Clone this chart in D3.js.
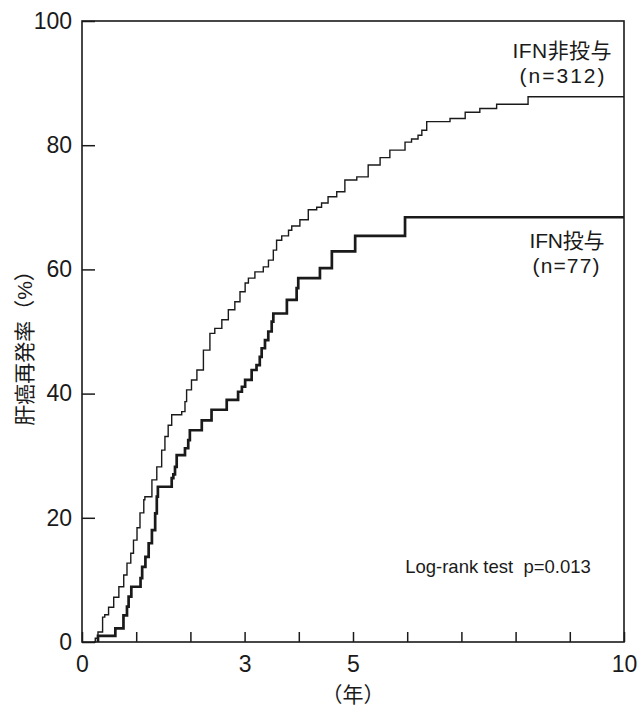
<!DOCTYPE html>
<html>
<head>
  <meta charset="utf-8">
  <title>肝癌再発率</title>
  <script src="https://d3js.org/d3.v7.min.js"></script>
  <style>
    body { margin: 0; background: #fff; }
    .tick text { font-family: "Liberation Sans", Arial, sans-serif; font-size: 23px; fill: #1a1a1a; }
    .tick line { stroke: #1a1a1a; stroke-width: 1.5px; }
    .jp { font-family: "Liberation Sans", "Noto Sans CJK JP", sans-serif; fill: #1a1a1a; }
  </style>
</head>
<body>
  <script>
    // IFN非投与 (n=312): step times (years) and cumulative recurrence (%)
    var noIfnYears = [0.22, 0.245, 0.295, 0.38, 0.42, 0.49, 0.585, 0.68, 0.77, 0.83, 0.90, 0.95, 1.015, 1.07, 1.14,
      1.16, 1.29, 1.38, 1.47, 1.53, 1.59, 1.655, 1.84, 1.90, 1.93, 2.02, 2.12, 2.24, 2.36, 2.45, 2.58, 2.70,
      2.82, 2.915, 3.01, 3.07, 3.19, 3.345, 3.44, 3.53, 3.59, 3.685, 3.81, 3.87, 4.02, 4.175, 4.33, 4.42,
      4.54, 4.70, 4.85, 5.07, 5.28, 5.50, 5.68, 5.96, 6.08, 6.20, 6.27, 6.36, 6.79, 7.07, 7.34, 7.65, 8.23, 10];
    var noIfnRate = [0, 0.6, 1.6, 4.0, 4.4, 5.6, 7.2, 8.9, 10.8, 12.7, 14.3, 16.4, 18.4, 20.8, 22.9,
      23.4, 26.1, 28.2, 30.9, 33.1, 34.9, 36.6, 37.1, 38.7, 40.6, 42.2, 43.8, 47.0, 49.7, 50.5, 51.9, 53.5,
      54.8, 56.4, 57.8, 58.6, 59.6, 60.4, 61.5, 63.1, 64.7, 65.4, 66.3, 67.0, 68.0, 69.6, 70.0, 70.7,
      71.7, 72.5, 74.4, 74.9, 76.8, 78.0, 79.2, 80.5, 81.0, 81.6, 82.4, 83.8, 84.3, 85.3, 85.9, 86.6, 87.8, 87.8];

    // IFN投与 (n=77)
    var ifnYears = [0.295, 0.295, 0.615, 0.765, 0.83, 0.86, 0.91, 1.08, 1.11, 1.17, 1.23, 1.29, 1.35, 1.38, 1.40,
      1.655, 1.685, 1.716, 1.747, 1.90, 1.96, 1.99, 2.21, 2.39, 2.67, 2.88, 2.95, 3.01, 3.13, 3.22, 3.28,
      3.315, 3.376, 3.437, 3.50, 3.53, 3.78, 3.96, 3.99, 4.39, 4.61, 5.04, 5.96, 10];
    var ifnRate = [0, 1.0, 2.2, 4.3, 5.7, 7.3, 8.9, 10.3, 12.1, 13.7, 15.9, 18.0, 20.7, 23.4, 25.0,
      26.4, 27.0, 28.2, 30.1, 31.2, 32.5, 34.1, 35.7, 37.4, 39.0, 40.3, 41.1, 42.2, 43.8, 44.6, 45.9,
      47.3, 48.6, 50.0, 51.6, 52.9, 55.1, 57.0, 58.6, 60.2, 62.9, 65.4, 68.4, 68.4];

    var xTicks = [0, 1, 2, 3, 4, 5, 6, 7, 8, 9, 10];
    var xLabels = { 0: "0", 3: "3", 5: "5", 10: "10" };
    var yTicks = [0, 20, 40, 60, 80, 100];

    var width = 637,
        height = 707;

    var svg = d3.select('body')
      .append('svg')
      .attr('width', width)
      .attr('height', height);

    var x = d3.scaleLinear().domain([0, 10]).range([82, 624]);
    var y = d3.scaleLinear().domain([0, 100]).range([642, 21]);

    // frame
    svg.append('rect')
      .attr('x', x(0)).attr('y', y(100))
      .attr('width', x(10) - x(0)).attr('height', y(0) - y(100))
      .attr('fill', 'none')
      .attr('stroke', '#1a1a1a')
      .attr('stroke-width', 1.6);

    // y axis, ticks point inside
    var yAxis = svg.append('g')
      .attr('transform', 'translate(' + x(0) + ',0)')
      .call(d3.axisLeft(y).tickValues(yTicks).tickSize(-13).tickPadding(10));
    yAxis.select('.domain').remove();

    // x axis, ticks point up
    var xAxis = svg.append('g')
      .attr('transform', 'translate(0,' + y(0) + ')')
      .call(d3.axisBottom(x).tickValues(xTicks).tickSize(-10).tickPadding(14)
        .tickFormat(function(d) { return xLabels[d] || ''; }));
    xAxis.select('.domain').remove();

    var line = d3.line()
      .x(function(d) { return x(d[0]); })
      .y(function(d) { return y(d[1]); })
      .curve(d3.curveStepAfter);

    svg.append('path')
      .datum(d3.zip(noIfnYears, noIfnRate))
      .attr('d', line)
      .attr('fill', 'none')
      .attr('stroke', '#1a1a1a')
      .attr('stroke-width', 1.4);

    svg.append('path')
      .datum(d3.zip(ifnYears, ifnRate))
      .attr('d', line)
      .attr('fill', 'none')
      .attr('stroke', '#1a1a1a')
      .attr('stroke-width', 2.7);

    // labels
    svg.append('text').attr('class', 'jp')
      .attr('transform', 'translate(32,343) rotate(-90)')
      .attr('text-anchor', 'middle')
      .style('font-size', '21px')
      .text('肝癌再発率（%）');

    svg.append('text').attr('class', 'jp')
      .attr('x', x(5)).attr('y', 702)
      .attr('text-anchor', 'middle')
      .style('font-size', '21px')
      .text('（年）');

    var legend = [
      { t: 'IFN非投与', cx: 562, cy: 58, w: 99 },
      { t: '(n=312)', cx: 562, cy: 83, w: 85 },
      { t: 'IFN投与', cx: 567, cy: 248, w: 75 },
      { t: '(n=77)', cx: 566, cy: 273, w: 67 }
    ];
    svg.selectAll('.leg')
      .data(legend)
      .enter()
      .append('text')
      .attr('class', 'jp leg')
      .attr('x', function(d) { return d.cx; })
      .attr('y', function(d) { return d.cy; })
      .attr('text-anchor', 'middle')
      .attr('textLength', function(d) { return d.w; })
      .attr('lengthAdjust', 'spacing')
      .style('font-size', '21px')
      .text(function(d) { return d.t; });

    svg.append('text').attr('class', 'jp')
      .attr('x', 498).attr('y', 573)
      .attr('text-anchor', 'middle')
      .style('font-size', '18.5px')
      .attr('xml:space', 'preserve')
      .text('Log-rank test  p=0.013');
  </script>
</body>
</html>
